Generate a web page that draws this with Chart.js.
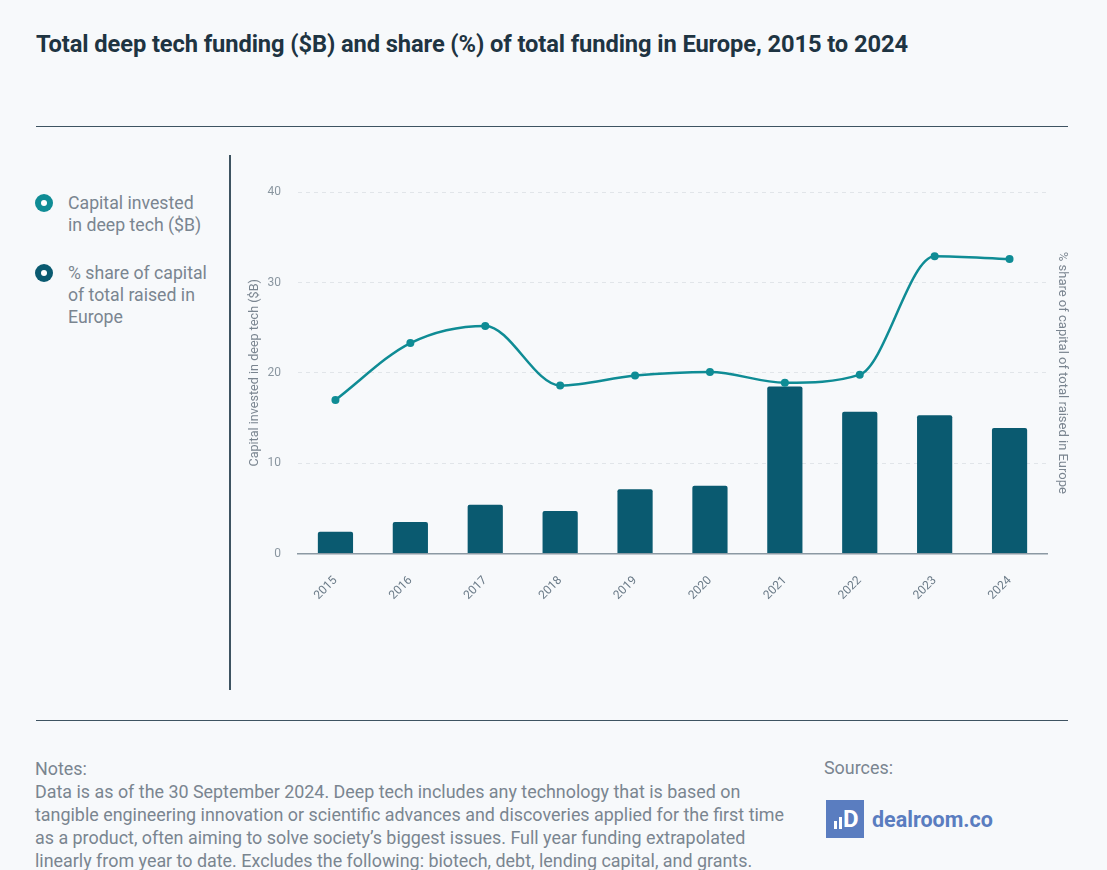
<!DOCTYPE html>
<html>
<head>
<meta charset="utf-8">
<script src="https://cdn.jsdelivr.net/npm/chart.js@4/dist/chart.umd.min.js"></script>
<style>
  html, body { margin:0; padding:0; background:#F7F9FB; width:1107px; height:870px; overflow:hidden; font-family: Roboto, "Noto Sans", sans-serif; }
  .abs { position:absolute; }
  #title { left:36px; top:30px; font-size:23.7px; font-weight:700; color:#1E3442; white-space:nowrap; letter-spacing:-0.1px; }
  .rule { background:#3E5361; }
  .legtext { font-size:17.7px; line-height:22px; color:#7A8590; }
  .dot { width:18px; height:18px; border-radius:50%; box-sizing:border-box; }
  .dot::after { content:""; position:absolute; left:6px; top:6px; width:6px; height:6px; border-radius:50%; background:#fff; }
  #notes { left:35px; top:757px; font-size:17.9px; line-height:23px; color:#7A8590; white-space:nowrap; }
  #sources { left:824px; top:757px; font-size:17.9px; color:#7A8590; }
</style>
</head>
<body>
<div id="title" class="abs">Total deep tech funding ($B) and share (%) of total funding in Europe, 2015 to 2024</div>
<div class="abs rule" style="left:36px; top:125.5px; width:1032px; height:1.5px;"></div>
<div class="abs rule" style="left:229px; top:155px; width:1.5px; height:535px;"></div>

<div class="abs dot" style="left:35px; top:194px; background:#0F8C95;"></div>
<div class="abs legtext" style="left:68px; top:192px;">Capital invested<br>in deep tech ($B)</div>
<div class="abs dot" style="left:35px; top:264px; background:#0A5A70;"></div>
<div class="abs legtext" style="left:68px; top:262px;">% share of capital<br>of total raised in<br>Europe</div>

<div class="abs" style="left:240px; top:168px; width:840px; height:452px;"><canvas id="c" width="840" height="452"></canvas></div>

<div class="abs rule" style="left:36px; top:719.5px; width:1032px; height:1.5px;"></div>
<div id="notes" class="abs">Notes:<br>Data is as of the 30 September 2024. Deep tech includes any technology that is based on<br>tangible engineering innovation or scientific advances and discoveries applied for the first time<br>as a product, often aiming to solve society’s biggest issues. Full year funding extrapolated<br>linearly from year to date. Excludes the following: biotech, debt, lending capital, and grants.</div>
<div id="sources" class="abs">Sources:</div>
<div class="abs" style="left:826px; top:800px; width:38px; height:38px; background:#5A7DC0;">
  <div class="abs" style="left:8px; top:21px; width:3px; height:8px; background:#fff;"></div>
  <div class="abs" style="left:13px; top:17px; width:3px; height:12px; background:#fff;"></div>
  <div class="abs" style="left:17px; top:5px; font-size:24px; font-weight:700; color:#fff; line-height:28px;">D</div>
</div>
<div class="abs" style="left:872px; top:806px; font-size:21.5px; font-weight:700; color:#5A7DC0; line-height:28px;">dealroom.co</div>

<script>
const years = ['2015','2016','2017','2018','2019','2020','2021','2022','2023','2024'];
const capitalInvestedB = [2.4, 3.5, 5.4, 4.7, 7.1, 7.5, 18.5, 15.7, 15.3, 13.9];
const sharePct = [17.0, 23.3, 25.2, 18.6, 19.7, 20.1, 18.9, 19.8, 32.9, 32.6];
const leftTicks = [0, 10, 20, 30, 40];

const tickFont = { family: 'Roboto', size: 12 };
new Chart(document.getElementById('c'), {
  data: {
    labels: years,
    datasets: [
      {
        type: 'line', label: '% share', data: sharePct, yAxisID: 'y1',
        borderColor: '#0F8C95', backgroundColor: '#0F8C95', borderWidth: 2.5,
        pointRadius: 4, pointHoverRadius: 4, pointBorderWidth: 0,
        cubicInterpolationMode: 'monotone', fill: false
      },
      {
        type: 'bar', label: 'Capital', data: capitalInvestedB, yAxisID: 'y',
        backgroundColor: '#0A5A70', borderRadius: 2, borderSkipped: 'bottom',
        categoryPercentage: 1, barPercentage: 0.47
      }
    ]
  },
  options: {
    responsive: false, animation: false,
    layout: { padding: { top: 0, left: 0, right: 0, bottom: 0 } },
    plugins: { legend: { display: false }, tooltip: { enabled: false } },
    scales: {
      x: {
        grid: { display: false },
        border: { display: true, color: '#8C99A3', width: 1.5 },
        ticks: { color: '#6B7B88', font: tickFont, maxRotation: 45, minRotation: 45, padding: 12, autoSkip: false },
        afterFit: s => { s.height = 66.5; }
      },
      y: {
        position: 'left', min: 0, max: 40,
        afterBuildTicks: s => { s.ticks = leftTicks.map(v => ({ value: v })); },
        ticks: { color: '#8A96A0', font: tickFont, padding: 17 },
        grid: { color: '#E1E5E9', lineWidth: 1, drawTicks: false },
        border: { display: false, dash: [4, 4] },
        title: { display: true, text: 'Capital invested in deep tech ($B)', color: '#7A8590', font: { family: 'Roboto', size: 12.6 }, padding: { top: 7, bottom: 0 } },
        afterFit: s => { s.width = 58; }
      },
      y1: {
        position: 'right', min: 0, max: 40,
        ticks: { display: false },
        grid: { display: false, drawTicks: false },
        border: { display: false },
        title: { display: true, text: '% share of capital of total raised in Europe', color: '#7A8590', font: { family: 'Roboto', size: 13 }, padding: { top: 10, bottom: 0 } },
        afterFit: s => { s.width = 33; }
      }
    }
  }
});
</script>
</body>
</html>
